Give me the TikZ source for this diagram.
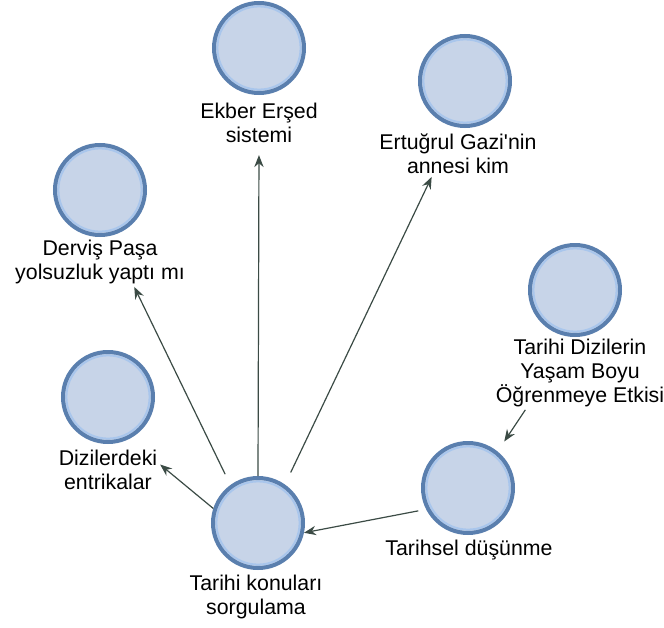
\documentclass[tikz,border=0pt]{standalone}
\usepackage{fontspec}
\setmainfont{Liberation Sans}
\usetikzlibrary{arrows.meta}
\definecolor{bubblefill}{HTML}{C7D4E8}
\definecolor{bubbleedge}{HTML}{5A7FAE}
\definecolor{bubblering}{HTML}{A9C6EC}
\definecolor{linkcol}{HTML}{3B4B45}
\tikzset{
  bubble/.style={circle, draw=bubbleedge, fill=bubblefill, line width=3pt,
    minimum size=67.5pt, inner sep=0pt,
    path picture={\draw[bubblering, line width=1.5pt]
      (path picture bounding box.center) circle (31.2pt);}},
  lbl/.style={align=center, inner sep=2pt, text=black,
    font=\fontsize{16pt}{18pt}\selectfont},
  link/.style={-{Stealth[length=9pt,width=7pt]}, linkcol, line width=0.9pt}
}
\begin{document}
\begin{tikzpicture}[x=0.75pt, y=-0.75pt]
            \useasboundingbox (0,0) rectangle (664,628);
            % the bubbles
            \foreach \name/\x/\y in {ekber/259/48, ert/465/81, dervis/100/190,
                                     diziler/108/397, konu/258/523,
                                     tarihsel/468/488, yasam/575/290}
                \node[bubble] (\name) at (\x,\y) {};
            
            % their texts
            \node[lbl] (ekberL) at (259,123) {Ekber Erşed\\sistemi};
            \node[lbl] (ertL) at (458,154) {Ertuğrul Gazi\textquotesingle nin\\annesi kim};
            \node[lbl] (dervisL) at (100,262) {Derviş Paşa\\yolsuzluk yaptı mı};
            \node[lbl] (dizilerL) at (108,470) {Dizilerdeki\\entrikalar};
            \node[lbl] (konuL) at (256,597) {Tarihi konuları\\sorgulama};
            \node[lbl] (tarihselL) at (469,550) {Tarihsel düşünme};
            \node[lbl] (yasamL) at (580,373) {Tarihi Dizilerin\\Yaşam Boyu\\Öğrenmeye Etkisi};
            
            % links
            \draw[link, shorten >=7pt] (konu.north) -- (ekberL.south);
            \draw[link, shorten <=10pt] (konu.55) -- (ertL.221);
            \draw[link, shorten <=9pt] (konu.126) -- (dervisL.324);
            \draw[link] (konu.162) -- (dizilerL.6);
            \draw[link, shorten <=6pt] (tarihsel.207) -- (konu.348);
            \draw[link, shorten >=9pt] (yasamL.214) -- (tarihsel.51);
\end{tikzpicture}
\end{document}
